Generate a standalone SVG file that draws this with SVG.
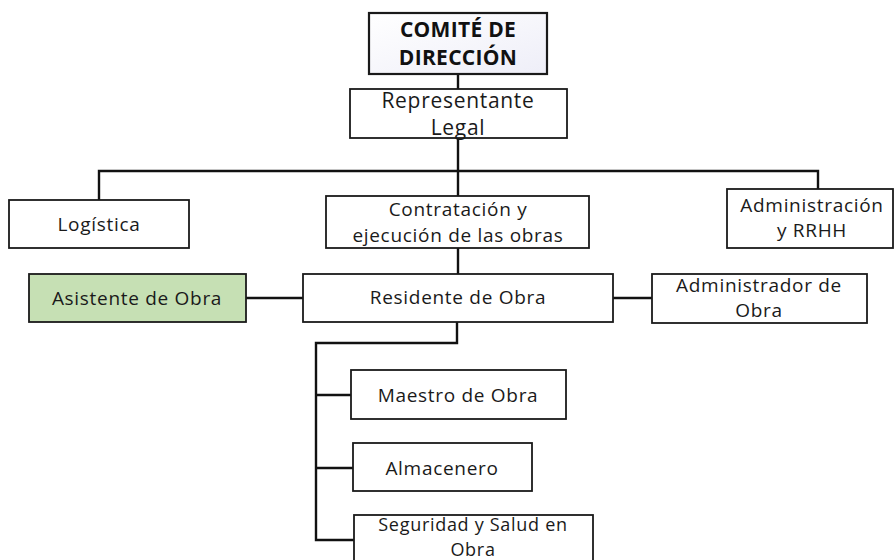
<svg xmlns="http://www.w3.org/2000/svg" width="895" height="560" viewBox="0 0 895 560">
<defs>
<linearGradient id="g1" x1="0" y1="0" x2="1" y2="1">
<stop offset="0" stop-color="#ffffff"/>
<stop offset="1" stop-color="#eeeef8"/>
</linearGradient>
<style>
.b{fill:#fff;stroke:#1a1a1a;stroke-width:1.8}
.t{font-family:"Open Sans","Liberation Sans",sans-serif;font-size:19px;fill:#1a1a1a;text-anchor:middle;letter-spacing:0.7px}
.tb{font-family:"Open Sans","Liberation Sans",sans-serif;font-size:21px;font-weight:bold;fill:#111;text-anchor:middle;letter-spacing:0.3px}
.c{fill:none;stroke:#111;stroke-width:2.4}
</style>
</defs>
<rect width="895" height="560" fill="#fff"/>
<g id="connectors">
<path class="c" d="M458 74V89"/>
<path class="c" d="M458 138V196"/>
<path class="c" d="M99 200V171H818V189"/>
<path class="c" d="M458 248V274"/>
<path class="c" d="M246 298H303"/>
<path class="c" d="M613 298H652"/>
<path class="c" d="M457 322V343H316V540H354"/>
<path class="c" d="M316 395H351"/>
<path class="c" d="M316 468H353"/>
</g>
<g id="comite">
<rect x="369" y="13" width="178" height="61" fill="url(#g1)" stroke="#1a1a1a" stroke-width="2.2"/>
<text class="tb" x="458" y="37">COMITÉ DE</text>
<text class="tb" x="458" y="65">DIRECCIÓN</text>
</g>
<g id="representante">
<rect class="b" x="350" y="89" width="217" height="49"/>
<text class="t" x="458" y="108" style="font-size:21px">Representante</text>
<text class="t" x="458" y="135" style="font-size:21px">Legal</text>
</g>
<g id="logistica">
<rect class="b" x="9" y="200" width="180" height="48"/>
<text class="t" x="99" y="231">Logística</text>
</g>
<g id="contratacion">
<rect class="b" x="326" y="196" width="263" height="52"/>
<text class="t" x="458" y="216">Contratación y</text>
<text class="t" x="458" y="242">ejecución de las obras</text>
</g>
<g id="administracion">
<rect class="b" x="727" y="189" width="166" height="59"/>
<text class="t" x="812" y="212">Administración</text>
<text class="t" x="812" y="237">y RRHH</text>
</g>
<g id="asistente">
<rect x="29" y="274" width="217" height="48" fill="#c6e0b4" stroke="#1a1a1a" stroke-width="1.8"/>
<text class="t" x="137" y="305">Asistente de Obra</text>
</g>
<g id="residente">
<rect class="b" x="303" y="274" width="310" height="48"/>
<text class="t" x="458" y="304">Residente de Obra</text>
</g>
<g id="administrador">
<rect class="b" x="652" y="274" width="215" height="49"/>
<text class="t" x="759" y="292">Administrador de</text>
<text class="t" x="759" y="317">Obra</text>
</g>
<g id="maestro">
<rect class="b" x="351" y="370" width="215" height="49"/>
<text class="t" x="458" y="402">Maestro de Obra</text>
</g>
<g id="almacenero">
<rect class="b" x="353" y="443" width="179" height="48"/>
<text class="t" x="442" y="475">Almacenero</text>
</g>
<g id="seguridad">
<rect class="b" x="354" y="515" width="239" height="50"/>
<text class="t" x="473" y="531" style="font-size:18px">Seguridad y Salud en</text>
<text class="t" x="473" y="556" style="font-size:18px">Obra</text>
</g>
</svg>
